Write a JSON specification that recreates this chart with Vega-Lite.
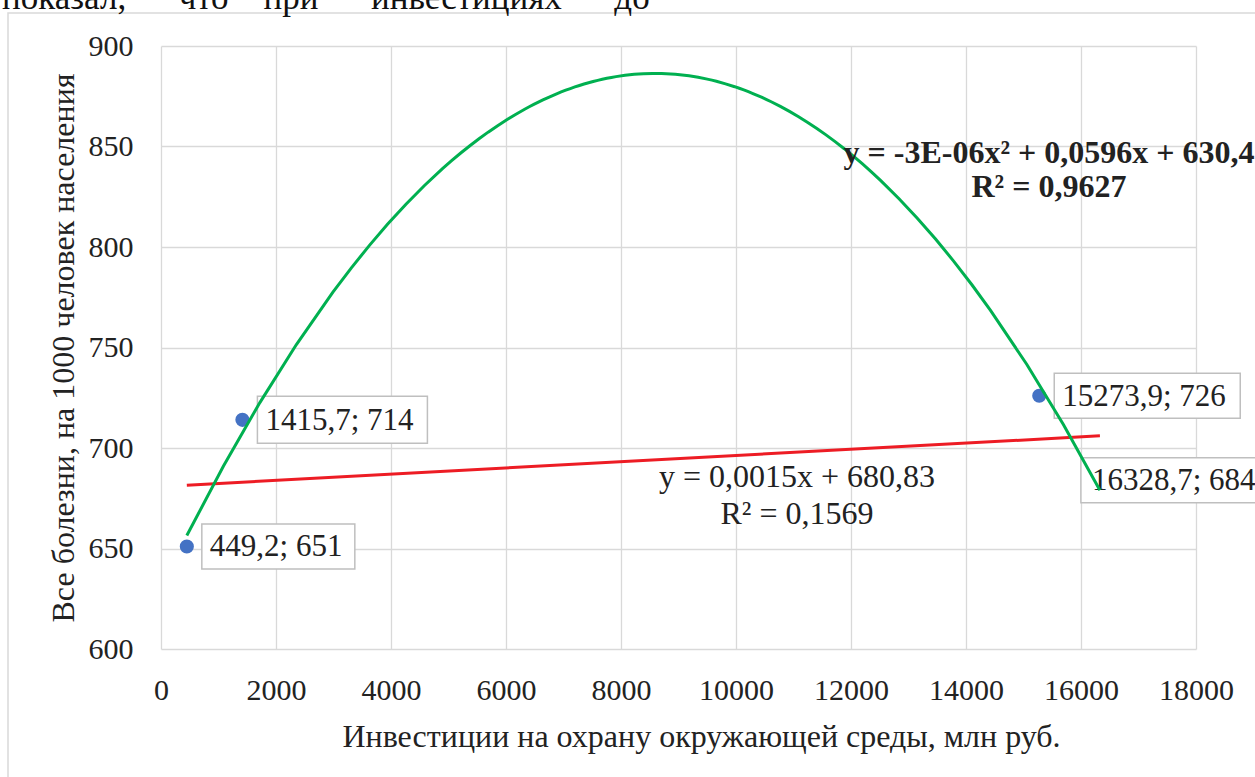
{
  "$schema": "https://vega.github.io/schema/vega-lite/v6.json",
  "width": 1035,
  "height": 603,
  "autosize": {"type": "none"},
  "padding": {"left": 161, "top": 46, "right": 59, "bottom": 128},
  "background": "white",
  "config": {
    "font": "Liberation Serif",
    "view": {"stroke": null},
    "axis": {
      "labelFont": "Liberation Serif",
      "labelFontSize": 30,
      "labelColor": "#222222",
      "titleFont": "Liberation Serif",
      "titleFontSize": 32,
      "titleFontWeight": "normal",
      "titleColor": "#222222",
      "gridColor": "#d9d9d9",
      "gridWidth": 1.3,
      "domain": false,
      "ticks": false,
      "labelFlush": false
    }
  },
  "data": {
    "values": [
      {"x": 449.2, "y": 651, "label": "449,2; 651"},
      {"x": 1415.7, "y": 714, "label": "1415,7; 714"},
      {"x": 15273.9, "y": 726, "label": "15273,9; 726"},
      {"x": 16328.7, "y": 684, "label": "16328,7; 684"}
    ]
  },
  "encoding": {
    "x": {
      "field": "x",
      "type": "quantitative",
      "scale": {"domain": [0, 18000], "nice": false, "zero": false},
      "axis": {
        "values": [0, 2000, 4000, 6000, 8000, 10000, 12000, 14000, 16000, 18000],
        "format": "d",
        "labelPadding": 26,
        "title": "Инвестиции на охрану окружающей среды, млн руб.",
        "titlePadding": 16,
        "titleX": 540
      }
    },
    "y": {
      "field": "y",
      "type": "quantitative",
      "scale": {"domain": [600, 900], "nice": false, "zero": false},
      "axis": {
        "values": [600, 650, 700, 750, 800, 850, 900],
        "labelPadding": 28,
        "title": "Все болезни, на 1000 человек населения",
        "titlePadding": 8
      }
    }
  },
  "layer": [
    {
      "transform": [{"filter": "datum.x == 449.2"}],
      "mark": {"type": "rect", "fill": "transparent", "stroke": "#d9d9d9", "strokeWidth": 1.5},
      "encoding": {
        "x": {"datum": -2661, "type": "quantitative"},
        "x2": {"datum": 22000},
        "y": {"datum": 916.4, "type": "quantitative"},
        "y2": {"datum": 500}
      }
    },
    {
      "transform": [{"filter": "datum.x == 449.2"}],
      "mark": {"type": "text", "align": "left", "baseline": "alphabetic", "fontSize": 35, "font": "Liberation Serif", "color": "#111111"},
      "encoding": {
        "x": {"datum": -2765, "type": "quantitative"},
        "y": {"datum": 918.4, "type": "quantitative"},
        "text": {"value": "показал,\u00a0\u00a0\u00a0\u00a0\u00a0\u00a0что\u00a0\u00a0\u00a0\u00a0при\u00a0\u00a0\u00a0\u00a0\u00a0\u00a0инвестициях\u00a0\u00a0\u00a0\u00a0\u00a0\u00a0до"}
      }
    },
    {"mark": {"type": "circle", "size": 200, "color": "#4472C4", "opacity": 1}},
    {
      "transform": [{"filter": "datum.x == 449.2"}],
      "mark": {"type": "rect", "fill": "white", "stroke": "#bfbfbf", "strokeWidth": 1.5, "width": 153, "height": 45, "xOffset": 91.5}
    },
    {
      "transform": [{"filter": "datum.x == 1415.7"}],
      "mark": {"type": "rect", "fill": "white", "stroke": "#bfbfbf", "strokeWidth": 1.5, "width": 170, "height": 47, "xOffset": 100}
    },
    {
      "transform": [{"filter": "datum.x == 15273.9"}],
      "mark": {"type": "rect", "fill": "white", "stroke": "#bfbfbf", "strokeWidth": 1.5, "width": 186, "height": 45, "xOffset": 108}
    },
    {
      "transform": [{"filter": "datum.x == 16328.7"}],
      "mark": {"type": "rect", "fill": "white", "stroke": "#bfbfbf", "strokeWidth": 1.5, "width": 186, "height": 45, "xOffset": 74}
    },
    {
      "transform": [{"filter": "datum.x < 16000"}],
      "mark": {"type": "text", "align": "left", "baseline": "middle", "dx": 23, "dy": 1, "fontSize": 31, "font": "Liberation Serif", "color": "#222222"},
      "encoding": {"text": {"field": "label"}}
    },
    {
      "transform": [{"filter": "datum.x > 16000"}],
      "mark": {"type": "text", "align": "left", "baseline": "middle", "dx": -8, "dy": 1, "fontSize": 31, "font": "Liberation Serif", "color": "#222222"},
      "encoding": {"text": {"field": "label"}}
    },
    {
      "transform": [{"regression": "y", "on": "x", "method": "linear"}],
      "mark": {"type": "line", "color": "#ED1C24", "strokeWidth": 3}
    },
    {
      "transform": [{"regression": "y", "on": "x", "method": "poly", "order": 2}],
      "mark": {"type": "line", "color": "#00B050", "strokeWidth": 3}
    },
    {
      "transform": [{"filter": "datum.x == 449.2"}],
      "mark": {"type": "text", "align": "center", "baseline": "middle", "fontSize": 32, "font": "Liberation Serif", "color": "#222222"},
      "encoding": {
        "x": {"datum": 11061, "type": "quantitative"},
        "y": {"datum": 685.6, "type": "quantitative"},
        "text": {"value": "y = 0,0015x + 680,83"}
      }
    },
    {
      "transform": [{"filter": "datum.x == 449.2"}],
      "mark": {"type": "text", "align": "center", "baseline": "middle", "fontSize": 32, "font": "Liberation Serif", "color": "#222222"},
      "encoding": {
        "x": {"datum": 11061, "type": "quantitative"},
        "y": {"datum": 667.2, "type": "quantitative"},
        "text": {"value": "R² = 0,1569"}
      }
    },
    {
      "transform": [{"filter": "datum.x == 449.2"}],
      "mark": {"type": "text", "align": "center", "baseline": "middle", "fontSize": 32, "fontWeight": "bold", "font": "Liberation Serif", "color": "#222222"},
      "encoding": {
        "x": {"datum": 15443, "type": "quantitative"},
        "y": {"datum": 846.8, "type": "quantitative"},
        "text": {"value": "y = -3E-06x² + 0,0596x + 630,4"}
      }
    },
    {
      "transform": [{"filter": "datum.x == 449.2"}],
      "mark": {"type": "text", "align": "center", "baseline": "middle", "fontSize": 32, "fontWeight": "bold", "font": "Liberation Serif", "color": "#222222"},
      "encoding": {
        "x": {"datum": 15443, "type": "quantitative"},
        "y": {"datum": 829.9, "type": "quantitative"},
        "text": {"value": "R² = 0,9627"}
      }
    }
  ]
}
